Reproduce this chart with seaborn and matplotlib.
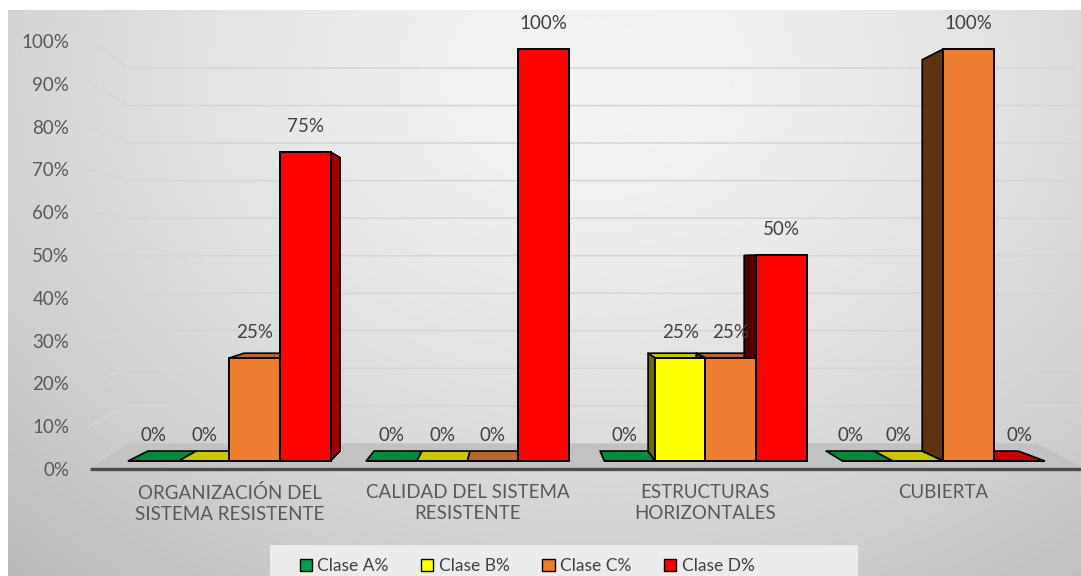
import numpy as np
import pandas as pd
import matplotlib
matplotlib.use("Agg")
import matplotlib.pyplot as plt
from matplotlib.patches import Polygon, Patch, Rectangle
import seaborn as sns

# ---- data -------------------------------------------------------------
categorias = [
    "ORGANIZACIÓN DEL\nSISTEMA RESISTENTE",
    "CALIDAD DEL SISTEMA\nRESISTENTE",
    "ESTRUCTURAS\nHORIZONTALES",
    "CUBIERTA",
]
clases = ["Clase A%", "Clase B%", "Clase C%", "Clase D%"]
clase_a = [0, 0, 0, 0]
clase_b = [0, 0, 25, 0]
clase_c = [25, 0, 25, 100]
clase_d = [75, 100, 50, 0]
ticks_pct = list(range(0, 101, 10))

# ---- styling ----------------------------------------------------------
colores_frente = ["#00a14b", "#ffff00", "#ed7d31", "#ff0000"]
colores_tapa = ["#008a3e", "#c9c600", "#b8682c", "#cc0000"]
colores_lado_der = ["#005f2a", "#9a9800", "#8a4a18", "#a00000"]
colores_lado_izq = ["#004020", "#6b6b00", "#5e3110", "#520000"]
gris_texto = "#595959"

sns.set_style("white")
plt.rcParams["font.family"] = ["Lato", "DejaVu Sans"]

W, H = 1081, 576
fig = plt.figure(figsize=(W / 100, H / 100), dpi=100)
fig.patch.set_facecolor("white")

# soft grey backdrop, lighter towards the upper centre
bg = fig.add_axes([8 / W, 0, 1 - 8 / W, 1 - 10 / H], zorder=-10)
yy, xx = np.mgrid[0:1:300j, 0:1:600j]
d = np.sqrt(((xx - 0.55) / 0.72) ** 2 + ((yy - 0.12) / 1.05) ** 2)
bg.imshow(0.955 - 0.19 * d ** 1.5, cmap="gray", vmin=0, vmax=1,
          aspect="auto", interpolation="bilinear")
bg.axis("off")

# main plotting area
ax = fig.add_axes([90 / W, 1 - 469 / H, 985 / W, 457 / H])
ax.set_facecolor("none")

series = [clase_a, clase_b, clase_c, clase_d]
filas = []
for clase, valores in zip(clases, series):
    for cat, v in zip(categorias, valores):
        filas.append({"categoria": cat, "clase": clase, "valor": v})
df = pd.DataFrame(filas)

sns.barplot(data=df, x="categoria", y="valor", hue="clase",
            order=categorias, hue_order=clases, palette=colores_frente,
            saturation=1, width=0.85, errorbar=None, legend=False,
            edgecolor="black", linewidth=1.4, zorder=4, ax=ax)

x0_lim, x1_lim = -0.586, 3.553
y0_lim, y1_lim = -1.96, 108.98
ax.set_xlim(x0_lim, x1_lim)
ax.set_ylim(y0_lim, y1_lim)

# perspective: vanishing point and depth scaling
VP_X, EYE = 1.22, 48.0
S_BAR, S_WALL = 0.95, 0.911


def proyectar(x, y, s):
    return VP_X + (x - VP_X) * s, EYE + (y - EYE) * s


# tick label scale of the value axis
def a_etiqueta(y):
    return (4.12 * np.asarray(y) + 8) / 4.28


def a_datos(v):
    return (4.28 * np.asarray(v) - 8) / 4.12


# floor slab
xb_izq, yb0 = proyectar(x0_lim, 0, S_WALL)
xb_der, _ = proyectar(x1_lim + 0.05, 0, S_WALL)
ax.add_patch(Polygon([(x0_lim, y0_lim), (x1_lim + 0.05, y0_lim),
                      (xb_der, yb0), (xb_izq, yb0)], closed=True,
                     facecolor="#c2c2c2", edgecolor="none", zorder=1,
                     clip_on=False))
ax.plot([x0_lim, x1_lim + 0.05], [y0_lim, y0_lim], color="#4d4d4d",
        lw=2.4, zorder=1.5, clip_on=False, solid_capstyle="butt")

# back-wall gridlines
for v in ticks_pct[1:]:
    _, yb = proyectar(0, v, S_WALL)
    ax.plot([x0_lim, xb_izq, x1_lim], [a_datos(v), yb, yb],
            color="#d6d6d6", lw=1.1, zorder=0.5, clip_on=False)

# 3-D faces of each bar and the value labels
for i, cont in enumerate(ax.containers):
    for j, p in enumerate(cont):
        x0 = p.get_x()
        x1 = x0 + p.get_width()
        xc = x0 + p.get_width() / 2
        h = p.get_height()
        caras = []
        if h < EYE:
            caras.append(([(x0, h), (x1, h), proyectar(x1, h, S_BAR),
                           proyectar(x0, h, S_BAR)], colores_tapa[i]))
        if h > 0 and x1 < VP_X:
            caras.append(([(x1, 0), (x1, h), proyectar(x1, h, S_BAR),
                           proyectar(x1, 0, S_BAR)], colores_lado_der[i]))
        if h > 0 and x0 > VP_X:
            caras.append(([(x0, 0), (x0, h), proyectar(x0, h, S_BAR),
                           proyectar(x0, 0, S_BAR)], colores_lado_izq[i]))
        for pts, col in caras:
            ax.add_patch(Polygon(pts, closed=True, facecolor=col,
                                 edgecolor="black", lw=1.2, zorder=3,
                                 joinstyle="round"))
        # a flat bar right of the vanishing point, standing before a
        # taller neighbour, is labelled over its receding floor face
        mas_alto_despues = any(series[k][j] > 0
                               for k in range(i + 1, len(series)))
        if h == 0 and xc > VP_X and mas_alto_despues:
            xc = proyectar(xc, 0, S_BAR)[0]
        ax.annotate(f"{h:.0f}%", xy=(xc, h), xytext=(0, 12),
                    textcoords="offset points", ha="center", va="bottom",
                    fontsize=13.5, color="#404040", zorder=6)

# axes decoration
for s in ax.spines.values():
    s.set_visible(False)
ax.set_xlabel("")
ax.set_ylabel("")
ax.set_yticks([])
ax.tick_params(axis="x", length=0, pad=11, labelsize=13.5,
               labelcolor=gris_texto)
for t in ax.get_xticklabels():
    t.set_linespacing(1.3)

sec = ax.secondary_yaxis("left", functions=(a_etiqueta, a_datos))
sec.set_yticks(ticks_pct)
sec.set_yticklabels([f"{t}%" for t in ticks_pct])
sec.tick_params(length=0, pad=15, labelsize=13.5, labelcolor=gris_texto)
for s in sec.spines.values():
    s.set_visible(False)

# legend on a light panel at the bottom
fig.patches.append(Rectangle((270 / W, 0), 588 / W, 31 / H,
                             transform=fig.transFigure, facecolor="#ececec",
                             edgecolor="none", zorder=-5))
manijas = [Patch(facecolor=c, edgecolor="black", lw=1.0)
           for c in colores_frente]
fig.legend(manijas, clases, loc="center",
           bbox_to_anchor=(527 / W, 1 - 566 / H), ncol=4, frameon=False,
           fontsize=12.5, handlelength=0.7, handleheight=0.7,
           handletextpad=0.3, columnspacing=1.9, borderpad=0,
           labelcolor="#404040")

fig.savefig("out.png", dpi=100)
